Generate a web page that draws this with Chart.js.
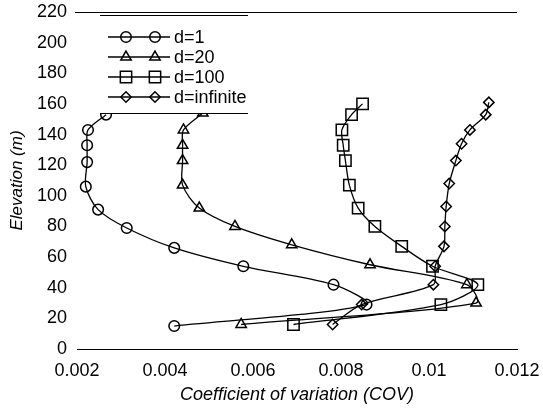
<!DOCTYPE html>
<html>
<head>
<meta charset="utf-8">
<script src="https://cdn.jsdelivr.net/npm/chart.js@4/dist/chart.umd.min.js"></script>
<style>
  html, body { margin: 0; padding: 0; background: #fff; }
  #wrap { width: 543px; height: 409px; position: relative; }
</style>
</head>
<body>
<div id="wrap"><canvas id="c" width="543" height="409"></canvas></div>
<script>
// ---- Data ----
const seriesNames = ["d=1", "d=20", "d=100", "d=infinite"];

const d1Elev = [15, 29, 42, 54, 66, 79, 91, 106, 122, 133, 143, 153];
const d1Cov  = [0.00421, 0.00858, 0.00783, 0.00578, 0.00421, 0.00313, 0.00248, 0.00220, 0.00223, 0.00223, 0.00225, 0.00266];

const d20Elev = [16, 30, 42, 55, 68, 80, 92, 107, 123, 133, 143, 154];
const d20Cov  = [0.00573, 0.01107, 0.01086, 0.00866, 0.00688, 0.00559, 0.00478, 0.00440, 0.00440, 0.00440, 0.00442, 0.00486];

const d100Elev = [16, 29, 42, 54, 67, 80, 92, 107, 123, 133, 143, 153, 160];
const d100Cov  = [0.00692, 0.01027, 0.01111, 0.01008, 0.00938, 0.00877, 0.00839, 0.00819, 0.00810, 0.00805, 0.00802, 0.00824, 0.00849];

const dInfElev = [16, 29, 42, 54, 67, 80, 93, 108, 123, 134, 143, 153, 161];
const dInfCov  = [0.00781, 0.00847, 0.01010, 0.01014, 0.01034, 0.01036, 0.01039, 0.01046, 0.01061, 0.01074, 0.01093, 0.01129, 0.01136];

const xTickValues = [0.002, 0.004, 0.006, 0.008, 0.010, 0.012];
const yTickValues = [0, 20, 40, 60, 80, 100, 120, 140, 160, 180, 200, 220];
const xTitle = "Coefficient of variation (COV)";
const yTitle = "Elevation (m)";

// ---- Styles ----
const FONT = "'Liberation Sans', Arial, Helvetica, sans-serif";
const markerStyles = [
  { pointStyle: 'circle',   radius: 5.3 },
  { pointStyle: 'triangle', radius: 6 },
  { pointStyle: 'rect',     radius: 8 },
  { pointStyle: 'rectRot',  radius: 5.2 }
];

function pairs(xs, ys) { return xs.map((x, i) => ({ x: x, y: ys[i] })); }
const seriesData = [pairs(d1Cov, d1Elev), pairs(d20Cov, d20Elev), pairs(d100Cov, d100Elev), pairs(dInfCov, dInfElev)];

const datasets = seriesNames.map((name, i) => ({
  label: name,
  data: seriesData[i],
  showLine: true,
  borderColor: '#000',
  borderWidth: 1.3,
  tension: 0.3,
  pointStyle: markerStyles[i].pointStyle,
  pointRadius: markerStyles[i].radius,
  pointBorderWidth: 1.5,
  pointBorderColor: '#000',
  pointBackgroundColor: 'rgba(0,0,0,0)',
  fill: false
}));

// Custom legend drawn on top of the plot, plus the top border line
const overlayPlugin = {
  id: 'overlay',
  afterDraw(chart) {
    const ctx = chart.ctx;
    const ca = chart.chartArea;
    ctx.save();
    // legend box (white, covers plot lines beneath)
    const bx = 100, by = 15, bw = 148, bh = 98;
    ctx.fillStyle = '#fff';
    ctx.fillRect(bx, by + 1, bw, bh);
    ctx.strokeStyle = '#000';
    ctx.lineWidth = 1;
    ctx.beginPath();
    ctx.moveTo(bx, by + 0.5); ctx.lineTo(bx + bw, by + 0.5);
    ctx.moveTo(bx, by + bh + 0.5); ctx.lineTo(bx + bw, by + bh + 0.5);
    ctx.stroke();
    // top frame line
    ctx.beginPath();
    ctx.moveTo(ca.left - 2, ca.top + 0.5);
    ctx.lineTo(ca.right, ca.top + 0.5);
    ctx.stroke();
    ctx.font = '18px ' + FONT;
    ctx.textBaseline = 'middle';
    ctx.textAlign = 'left';
    seriesNames.forEach((name, i) => {
      const y = 37 + i * 20;
      ctx.strokeStyle = '#000';
      ctx.lineWidth = 1.3;
      ctx.beginPath();
      ctx.moveTo(108, y); ctx.lineTo(170, y);
      ctx.stroke();
      ctx.lineWidth = 1.5;
      ctx.fillStyle = 'rgba(0,0,0,0)';
      [126, 155].forEach(px => {
        Chart.helpers.drawPoint(ctx, { pointStyle: markerStyles[i].pointStyle, radius: markerStyles[i].radius, rotation: 0, borderWidth: 1.5 }, px, y);
      });
      ctx.fillStyle = '#000';
      ctx.fillText(name, 174, y + 1);
    });
    ctx.restore();
  }
};

new Chart(document.getElementById('c'), {
  type: 'scatter',
  data: { datasets: datasets },
  options: {
    responsive: false,
    animation: false,
    devicePixelRatio: 1,
    layout: { padding: { left: 0, right: 26, top: 12, bottom: 0 } },
    plugins: {
      legend: { display: false },
      tooltip: { enabled: false }
    },
    scales: {
      x: {
        type: 'linear',
        min: 0.002, max: 0.012,
        afterBuildTicks(axis) { axis.ticks = xTickValues.map(v => ({ value: v })); },
        afterFit(axis) { axis.height = 60; axis.paddingLeft = 0; axis.paddingRight = 0; },
        grid: { display: false, drawTicks: false },
        border: { display: true, color: '#000', width: 1 },
        ticks: {
          color: '#000', padding: 11, maxRotation: 0,
          font: { family: FONT, size: 18 },
          callback: v => String(Number(v.toFixed(3)))
        },
        title: {
          display: true, text: xTitle, color: '#000',
          font: { family: FONT, size: 18, style: 'italic' },
          padding: { top: 0, bottom: 3 }
        }
      },
      y: {
        type: 'linear',
        min: 0, max: 220,
        afterBuildTicks(axis) { axis.ticks = yTickValues.map(v => ({ value: v })); },
        afterFit(axis) { axis.width = 77; axis.paddingTop = 0; axis.paddingBottom = 0; },
        grid: { display: false, drawTicks: false },
        border: { display: false },
        ticks: {
          color: '#000', padding: 10,
          font: { family: FONT, size: 18 }
        },
        title: {
          display: true, text: yTitle, color: '#000',
          font: { family: FONT, size: 17, style: 'italic' },
          padding: { top: 7, bottom: 0 }
        }
      }
    }
  },
  plugins: [overlayPlugin]
});
</script>
</body>
</html>
